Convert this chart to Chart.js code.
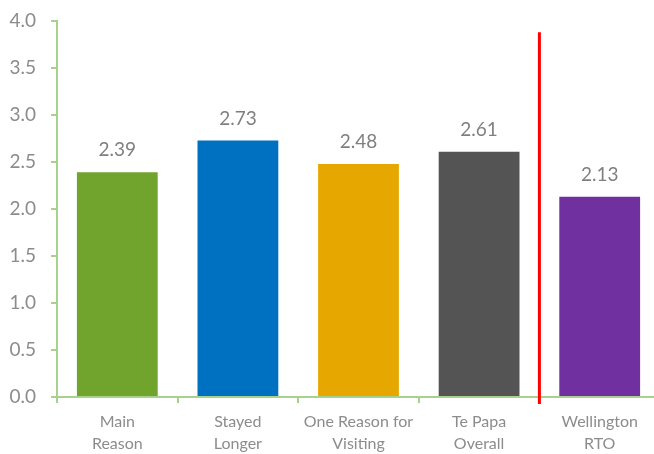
<!DOCTYPE html>
<html>
<head>
<meta charset="utf-8">
<script src="https://cdn.jsdelivr.net/npm/chart.js@4/dist/chart.umd.min.js"></script>
<style>
    html, body { margin: 0; padding: 0; background: #fff; overflow: hidden; width: 654px; height: 454px; }
    #wrap { width: 660px; height: 454px; }
</style>
</head>
<body>
<div id="wrap"><canvas id="chart" width="660" height="454"></canvas></div>
<script>
    'use strict';

    // chart data
    const categories = [
        ['Main', 'Reason'],
        ['Stayed', 'Longer'],
        ['One Reason for', 'Visiting'],
        ['Te Papa', 'Overall'],
        ['Wellington', 'RTO']
    ];
    const scores = [2.39, 2.73, 2.48, 2.61, 2.13];
    const barColours = ['#70A42C', '#0070C0', '#E6A700', '#545454', '#7030A0'];
    const yTicks = [0, 0.5, 1, 1.5, 2, 2.5, 3, 3.5, 4];

    const FONT = 'Lato, "Liberation Sans", sans-serif';
    const AXIS_GREEN = '#A9D18E';
    const TEXT_GREY = '#8C8C8C';

    // value labels above each bar
    const valueLabels = {
        id: 'valueLabels',
        afterDatasetsDraw: function (chart) {
            const ctx = chart.ctx;
            const meta = chart.getDatasetMeta(0);
            ctx.save();
            ctx.font = '19px ' + FONT;
            ctx.fillStyle = '#7F7F7F';
            ctx.textAlign = 'center';
            ctx.textBaseline = 'middle';
            meta.data.forEach(function (bar, i) {
                ctx.fillText(scores[i].toFixed(2), bar.x, bar.y - 22);
            });
            ctx.restore();
        }
    };

    // red divider between Te Papa and the regional figure
    const divider = {
        id: 'divider',
        afterDatasetsDraw: function (chart) {
            const ctx = chart.ctx;
            const x = chart.scales.x;
            const y = chart.scales.y;
            let px = (x.getPixelForValue(3) + x.getPixelForValue(4)) / 2;
            ctx.save();
            ctx.strokeStyle = '#FF0000';
            ctx.lineWidth = 3;
            ctx.beginPath();
            ctx.moveTo(px, y.getPixelForValue(3.88));
            ctx.lineTo(px, y.bottom + 7);
            ctx.stroke();
            ctx.restore();
        }
    };

    const DATA = {
        labels: categories,
        datasets: [{
            data: scores,
            backgroundColor: barColours,
            borderWidth: 0,
            categoryPercentage: 1,
            barPercentage: 0.67
        }]
    };

    const CONFIG = {
        type: 'bar',
        data: DATA,
        options: {
            responsive: false,
            animation: false,
            layout: { padding: { top: 21, left: 0, right: 0, bottom: 0 } },
            plugins: {
                legend: { display: false },
                tooltip: { enabled: false }
            },
            scales: {
                x: {
                    border: { color: AXIS_GREEN, width: 2 },
                    grid: {
                        offset: true,
                        drawOnChartArea: false,
                        color: AXIS_GREEN,
                        lineWidth: 2,
                        tickLength: 6
                    },
                    ticks: {
                        color: TEXT_GREY,
                        padding: 8,
                        maxRotation: 0,
                        autoSkip: false,
                        font: { family: FONT, size: 16, lineHeight: 1.38 }
                    },
                    afterFit: function (scale) { scale.height = 57; }
                },
                y: {
                    min: 0,
                    max: 4,
                    afterBuildTicks: function (scale) {
                        scale.ticks = yTicks.map(function (v) { return { value: v }; });
                    },
                    border: { color: AXIS_GREEN, width: 2 },
                    grid: {
                        drawOnChartArea: false,
                        color: AXIS_GREEN,
                        lineWidth: 2,
                        tickLength: 6
                    },
                    ticks: {
                        color: TEXT_GREY,
                        padding: 15,
                        font: { family: FONT, size: 19 },
                        callback: function (v) { return Number(v).toFixed(1); }
                    },
                    afterFit: function (scale) {
                        scale.width = 57;
                        // let layout.padding decide the top of the plot
                        scale.paddingTop = 0;
                        scale.paddingBottom = 0;
                    }
                }
            }
        },
        plugins: [valueLabels, divider]
    };

    const chart = new Chart(document.querySelector('#chart'), CONFIG);
</script>
</body>
</html>
